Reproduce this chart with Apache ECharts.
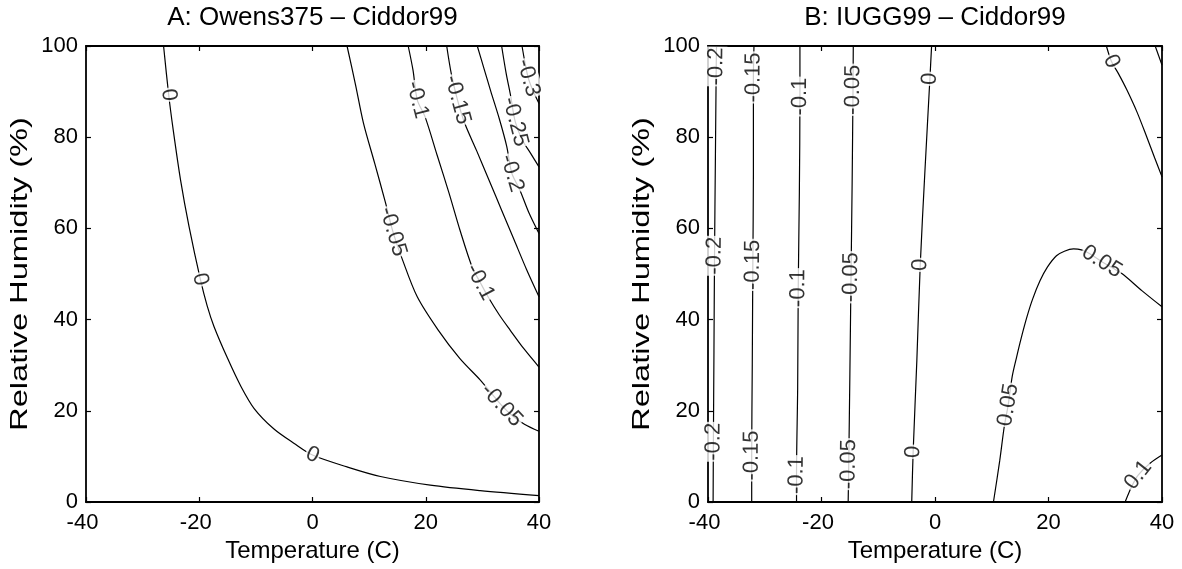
<!DOCTYPE html>
<html>
<head>
<meta charset="utf-8">
<script src="https://cdn.jsdelivr.net/npm/echarts@6/dist/echarts.min.js"></script>
<style>
  html, body { margin: 0; padding: 0; background: #fff; }
  #chart { width: 1182px; height: 569px; }
</style>
</head>
<body>
<div id="chart"></div>
<script>
// Tick values for both panels
const tempTicks = [-40, -20, 0, 20, 40];
const rhTicks = [0, 20, 40, 60, 80, 100];
const panelTitles = ['A: Owens375 – Ciddor99', 'B: IUGG99 – Ciddor99'];
const xName = 'Temperature (C)';
const yName = 'Relative Humidity (%)';

// Panel A contour lines, points as [temperature (C), relative humidity (%)]
const a_0 = [[-26.3,100],[-25.4,89.3],[-24.6,81.6],[-23.3,70.6],[-21.8,60.4],[-19.8,48.8],[-18.6,43],[-17.4,38.5],[-15,31.5],[-12.7,25.5],[-10.3,20.5],[-6.8,16],[-3.3,12.9],[0,10.3],[6.1,7.7],[12.0,5.6],[20.8,3.7],[29.6,2.5],[40,1.4]];
const a_m005 = [[6.1,100],[7.6,91.5],[9.0,83.1],[11.0,74.2],[12.9,65.6],[14.2,59.3],[15.9,53.1],[18.5,45],[22.2,37.7],[26,31.5],[29.6,26.8],[31.5,24],[33.4,21.2],[35.4,18.8],[37.5,17],[40,15.5]];
const a_m01 = [[16.9,100],[17.75,94.7],[18.5,88.2],[19.9,84.4],[22,76.1],[24.1,67.8],[26.05,59.6],[28.2,51.5],[29.6,48.2],[31,45],[33,41],[34.9,37.7],[37.4,33.5],[40,29.6]];
const a_m015 = [[23.7,100],[24.5,94],[25.6,88.2],[26.9,83],[29,77],[31.2,70.5],[33.4,64],[35.6,57.5],[37.8,51],[40,45]];
const a_m02 = [[29.1,100],[30.3,95],[31.5,90],[33,84],[34.3,78],[35.2,72.1],[36.6,68.5],[38.2,63.5],[40,58.9]];
const a_m025 = [[33.4,100],[34.2,94],[35.0,89],[35.8,83.4],[37.0,79.5],[38.5,76.5],[40,73.5]];
const a_m03 = [[37.0,100],[37.5,96.5],[38.1,93],[39.0,90],[40,87.4]];

// Panel B contour lines
const b_m02 = [[-39.1,0],[-39.05,13.2],[-38.95,33],[-38.85,54],[-38.7,75],[-38.55,95.5],[-38.5,100]];
const b_m015 = [[-32.3,0],[-32.3,10.2],[-32.2,30],[-32.1,52],[-32.0,72],[-32.0,93.1],[-31.9,100]];
const b_m01 = [[-24.4,0],[-24.4,5.9],[-24.2,25],[-24.1,46.9],[-23.9,68],[-23.8,88.9],[-23.8,100]];
const b_m005 = [[-15.3,0],[-15.2,8.3],[-15.0,28],[-14.8,49.3],[-14.6,70],[-14.45,90.4],[-14.4,100]];
const b_0 = [[-4.1,0],[-3.85,11],[-3.2,31],[-2.6,52],[-1.8,72],[-0.9,92.8],[-0.6,100]];
const b_0b = [[30.2,100],[31.1,96.6],[32.3,94],[33.8,90.4],[35.6,85.5],[37.3,80.1],[38.7,75.5],[40,71.3]];
const b_m005b = [[38.8,100],[40,95.8]];
const b_005 = [[40,42.8],[36.5,46.3],[32.8,50.2],[29.4,52.7],[27.2,54.5],[25.8,55.3],[24.4,55.5],[22.8,55],[21.4,54],[19.8,51.5],[18.5,48.5],[17.2,44.5],[16.2,40.6],[15.2,36],[14.4,31.9],[13.6,27.5],[12.9,21.3],[12.2,16.5],[11.4,9],[10.3,0]];
const b_01 = [[33.5,0],[34.7,3.5],[35.8,5.9],[37.9,8.5],[40,10.3]];

// Contour level text and the vertices where the level is written
const panelA = [
  { level: '0', pts: a_0, at: [1, 5, 13] },
  { level: '-0.05', pts: a_m005, at: [5, 12] },
  { level: '-0.1', pts: a_m01, at: [2, 8] },
  { level: '-0.15', pts: a_m015, at: [2] },
  { level: '-0.2', pts: a_m02, at: [5] },
  { level: '-0.25', pts: a_m025, at: [3] },
  { level: '-0.3', pts: a_m03, at: [2] }
];
const panelB = [
  { level: '-0.2', pts: b_m02, at: [1, 3, 5] },
  { level: '-0.15', pts: b_m015, at: [1, 3, 5] },
  { level: '-0.1', pts: b_m01, at: [1, 3, 5] },
  { level: '-0.05', pts: b_m005, at: [1, 3, 5] },
  { level: '0', pts: b_0, at: [1, 3, 5] },
  { level: '0', pts: b_0b, at: [1] },
  { level: '-0.05', pts: b_m005b, at: [] },
  { level: '0.05', pts: b_005, at: [3, 16] },
  { level: '0.1', pts: b_01, at: [2] }
];
const panels = [panelA, panelB];

const FONT = '"Liberation Sans", Arial, Helvetica, sans-serif';
const grids = [
  { left: 86, top: 46, width: 453, height: 456 },
  { left: 708, top: 46, width: 454, height: 456 }
];

const axisLine = { show: true, onZero: false, lineStyle: { color: '#000', width: 1.8 } };
const axisTick = { show: true, inside: true, length: 5, lineStyle: { color: '#000', width: 1.2 } };
const tickText = { fontSize: 22, fontFamily: FONT, color: '#000' };
const nameText = { fontSize: 24, fontFamily: FONT, color: '#000' };

function tickRange(ticks) {
  return { min: ticks[0], max: ticks[ticks.length - 1], interval: ticks[1] - ticks[0] };
}

function buildOption(rotations) {
  const xAxis = [], yAxis = [], series = [], title = [], graphic = [];
  grids.forEach((g, gi) => {
    title.push({
      text: panelTitles[gi], left: g.left + g.width / 2, top: 5, textAlign: 'center', padding: 0,
      textStyle: { fontSize: 26, fontWeight: 'normal', fontFamily: FONT, color: '#000' }
    });
    // vertical humidity caption, drawn stretched along its baseline
    graphic.push({
      type: 'text', x: g.left - 66, y: g.top + g.height / 2, rotation: Math.PI / 2, scaleX: 1.36,
      silent: true,
      style: { text: yName, fontSize: 24, fontFamily: FONT, fill: '#000', align: 'center', verticalAlign: 'middle' }
    });
    // bottom x axis with labels, plain top axis to close the box
    xAxis.push(Object.assign({
      gridIndex: gi, type: 'value', position: 'bottom',
      name: xName, nameLocation: 'middle', nameGap: 36, nameTextStyle: nameText,
      axisLine, axisTick, splitLine: { show: false },
      axisLabel: Object.assign({
        margin: 10,
        formatter: v => (v < 0 ? '{n|' + v + '}{h| }' : '{n|' + v + '}'),
        rich: { n: tickText, h: { width: 7 } }
      }, tickText)
    }, tickRange(tempTicks)));
    xAxis.push(Object.assign({
      gridIndex: gi, type: 'value', position: 'top',
      axisLine, axisTick, splitLine: { show: false }, axisLabel: { show: false }
    }, tickRange(tempTicks)));
    yAxis.push(Object.assign({
      gridIndex: gi, type: 'value', position: 'left',
      axisLine, axisTick, splitLine: { show: false },
      axisLabel: Object.assign({ margin: 8 }, tickText)
    }, tickRange(rhTicks)));
    yAxis.push(Object.assign({
      gridIndex: gi, type: 'value', position: 'right',
      axisLine, axisTick, splitLine: { show: false }, axisLabel: { show: false }
    }, tickRange(rhTicks)));

    const labelData = [];
    panels[gi].forEach((c, ci) => {
      series.push({
        type: 'line', xAxisIndex: 2 * gi, yAxisIndex: 2 * gi, data: c.pts,
        showSymbol: false, symbol: 'none', smooth: 0.3, clip: true, silent: true,
        lineStyle: { color: '#000', width: 1.2 }, z: 2
      });
      c.at.forEach(idx => {
        const key = gi + '-' + ci + '-' + idx;
        labelData.push({
          name: c.level, value: c.pts[idx],
          label: { rotate: rotations[key] || 0 }
        });
      });
    });
    series.push({
      type: 'scatter', xAxisIndex: 2 * gi, yAxisIndex: 2 * gi, data: labelData,
      symbolSize: 0, silent: true, z: 5,
      label: {
        show: true, position: 'inside', formatter: p => p.name,
        fontSize: 22, fontFamily: FONT, color: '#000',
        backgroundColor: '#fff', padding: [0, 1]
      }
    });
  });
  return { animation: false, backgroundColor: '#fff', title, graphic, grid: grids, xAxis, yAxis, series };
}

const chart = echarts.init(document.getElementById('chart'));
chart.setOption(buildOption({}));

// Orient each level label along its contour line, kept upright
const rotations = {};
panels.forEach((list, gi) => {
  const finder = { xAxisIndex: 2 * gi, yAxisIndex: 2 * gi };
  list.forEach((c, ci) => {
    c.at.forEach(idx => {
      const p0 = chart.convertToPixel(finder, c.pts[Math.max(idx - 1, 0)]);
      const p1 = chart.convertToPixel(finder, c.pts[Math.min(idx + 1, c.pts.length - 1)]);
      let ang = Math.atan2(-(p1[1] - p0[1]), p1[0] - p0[0]) * 180 / Math.PI;
      if (ang > 90) ang -= 180;
      if (ang <= -90) ang += 180;
      rotations[gi + '-' + ci + '-' + idx] = ang;
    });
  });
});
chart.setOption(buildOption(rotations), true);
</script>
</body>
</html>
